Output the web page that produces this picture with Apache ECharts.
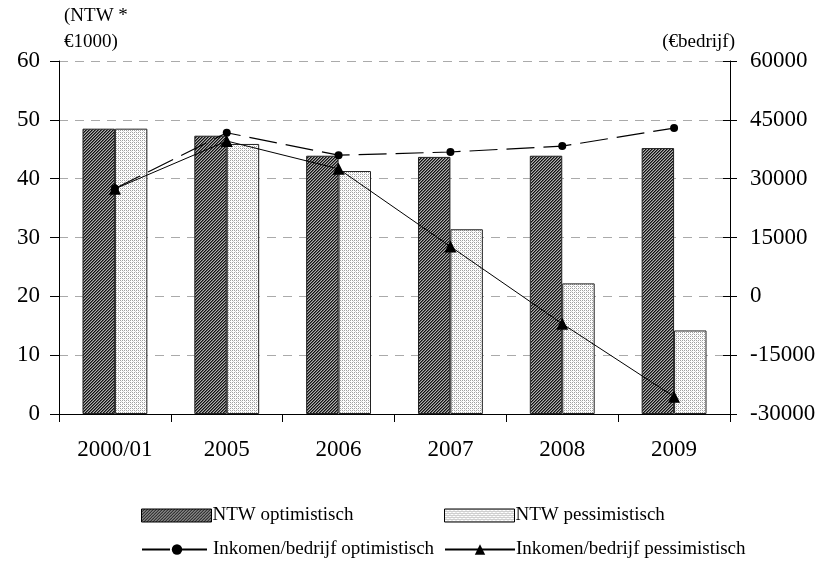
<!DOCTYPE html>
<html><head><meta charset="utf-8">
<script src="https://cdn.jsdelivr.net/npm/echarts@6/dist/echarts.min.js"></script>
<style>html,body{margin:0;padding:0;background:#fff}#c{width:827px;height:561px}</style>
</head><body><div id="c"></div>
<script>
const categories = ['2000/01','2005','2006','2007','2008','2009'];
const ntwOptimistisch = [48.5, 47.3, 43.9, 43.7, 43.9, 45.2];
const ntwPessimistisch = [48.5, 45.9, 41.3, 31.4, 22.2, 14.2];
const inkomenOptimistisch = [27500, 41700, 36000, 36800, 38300, 42900];
const inkomenPessimistisch = [27400, 39600, 32500, 12700, -7000, -25600];

function hatch() {
  const c = document.createElement('canvas'); c.width = 3; c.height = 3;
  const g = c.getContext('2d');
  g.fillStyle = '#b0b0b0'; g.fillRect(0,0,3,3);
  for (let i = 0; i < 3; i++) {
    g.fillStyle = '#111'; g.fillRect(2 - i, i, 1, 1);
    g.fillStyle = '#5a5a5a'; g.fillRect((2 - i + 1) % 3, i, 1, 1);
  }
  return c;
}
function dots() {
  const c = document.createElement('canvas'); c.width = 4; c.height = 4;
  const g = c.getContext('2d');
  g.fillStyle = '#ffffff'; g.fillRect(0,0,4,4);
  g.fillStyle = '#a0a0a0';
  g.fillRect(0,0,1,1); g.fillRect(2,2,1,1); g.fillRect(2,0,1,1); g.fillRect(0,2,1,1);
  g.fillStyle = '#d4d4d4';
  g.fillRect(1,1,1,1); g.fillRect(3,3,1,1);
  return c;
}
const font = 'Liberation Serif';
const chart = echarts.init(document.getElementById('c'));
const legendBase = {orient:'horizontal', itemWidth:70, itemHeight:13, itemGap:0, padding:0,
  textStyle:{fontFamily:font, fontSize:19, color:'#000', padding:[0,0,0,-4]}, selectedMode:false};
chart.setOption({
  animation:false,
  textStyle:{fontFamily:font},
  grid:{left:59, right:97, top:61, bottom:147},
  xAxis:{type:'category', data:categories, boundaryGap:true,
    axisLine:{lineStyle:{color:'#000'}}, axisTick:{show:true, length:8, lineStyle:{color:'#000'}},
    axisLabel:{fontFamily:font, fontSize:23, color:'#000', margin:24}},
  yAxis:[
    {type:'value', min:0, max:60, interval:10, position:'left',
     axisLine:{show:true, lineStyle:{color:'#000'}}, axisTick:{show:true, length:9, lineStyle:{color:'#000'}},
     axisLabel:{fontFamily:font, fontSize:23, color:'#000', margin:19},
     splitLine:{show:true, lineStyle:{color:'#aaa', type:[9,7]}}},
    {type:'value', min:-30000, max:60000, interval:15000, position:'right',
     axisLine:{show:true, lineStyle:{color:'#000'}}, axisTick:{show:true, length:7, lineStyle:{color:'#000'}},
     axisLabel:{fontFamily:font, fontSize:23, color:'#000', margin:20, formatter:function(v){return String(v);}},
     splitLine:{show:false}},
    {type:'value', min:-30000, max:60000, interval:15000, position:'right',
     axisLine:{show:false}, axisTick:{show:true, inside:true, length:7, lineStyle:{color:'#000'}},
     axisLabel:{show:false}, splitLine:{show:false}}
  ],
  legend:[
    Object.assign({}, legendBase, {left:141, top:506, icon:'rect', data:['NTW optimistisch'],
      itemStyle:{borderColor:'#000', borderWidth:1}}),
    Object.assign({}, legendBase, {left:444, top:506, icon:'rect', data:['NTW pessimistisch'],
      itemStyle:{borderColor:'#000', borderWidth:1}}),
    Object.assign({}, legendBase, {left:141, top:540, data:['Inkomen/bedrijf optimistisch']}),
    Object.assign({}, legendBase, {left:444, top:540, data:['Inkomen/bedrijf pessimistisch']})
  ],
  graphic:[
    {type:'text', left:64, top:7, style:{text:'(NTW *', font:'19px "Liberation Serif"', fill:'#000'}},
    {type:'text', left:64, top:33, style:{text:'€1000)', font:'19px "Liberation Serif"', fill:'#000'}},
    {type:'text', right:92, top:33, style:{text:'(€bedrijf)', font:'19px "Liberation Serif"', fill:'#000'}}
  ],
  series:[
    {name:'NTW optimistisch', type:'bar', yAxisIndex:0, data:ntwOptimistisch, barGap:'0%', barCategoryGap:'42%',
     itemStyle:{color:{image:hatch(), repeat:'repeat'}, borderColor:'#222', borderWidth:1}},
    {name:'NTW pessimistisch', type:'bar', yAxisIndex:0, data:ntwPessimistisch, barGap:'0%', barCategoryGap:'42%',
     itemStyle:{color:{image:dots(), repeat:'repeat'}, borderColor:'#222', borderWidth:1}},
    {name:'Inkomen/bedrijf optimistisch', type:'line', yAxisIndex:1, data:inkomenOptimistisch,
     symbol:'circle', symbolSize:8, itemStyle:{color:'#000'},
     lineStyle:{color:'#000', width:1.2, type:[28,9]}},
    {name:'Inkomen/bedrijf pessimistisch', type:'line', yAxisIndex:1, data:inkomenPessimistisch,
     symbol:'triangle', symbolSize:12, itemStyle:{color:'#000'},
     lineStyle:{color:'#000', width:1}}
  ]
});
</script></body></html>
